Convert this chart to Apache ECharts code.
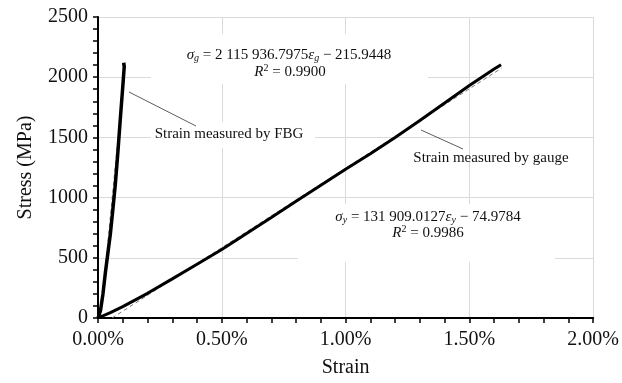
<!DOCTYPE html>
<html>
<head>
<meta charset="utf-8">
<script src="https://cdn.jsdelivr.net/npm/echarts@6/dist/echarts.min.js"></script>
<style>
html,body{margin:0;padding:0;background:#fff;}
#chart{width:622px;height:383px;}
</style>
</head>
<body>
<div id="chart"></div>
<script>
// ---- data (strain in %, stress in MPa) ----
const gaugeStrain = [0, 0.05, 0.10, 0.20, 0.30, 0.40, 0.50, 0.60, 0.70, 0.80, 0.90, 1.00, 1.10, 1.20, 1.30, 1.40, 1.50, 1.60, 1.628];
const gaugeStress = [0, 45, 95, 205, 325, 447, 569, 702, 835, 969, 1102, 1236, 1365, 1500, 1640, 1785, 1931, 2068, 2104];
const fbgStrain = [0, 0.01, 0.02, 0.03, 0.04, 0.05, 0.06, 0.07, 0.08, 0.09, 0.10, 0.106, 0.104, 0.107, 0.105];
const fbgStress = [0, 60, 200, 380, 540, 700, 900, 1110, 1370, 1650, 1920, 2090, 2120, 2110, 2095];
const gaugeTrend = [[0.057, 0], [1.63, 2075]];
const fbgTrend = [[0.0102, 0], [0.109, 2090]];
const xTicks = [0, 0.5, 1.0, 1.5, 2.0];
const yTicks = [0, 500, 1000, 1500, 2000, 2500];
const xName = 'Strain';
const yName = 'Stress (MPa)';
const fbgLabel = 'Strain measured by FBG';
const gaugeLabel = 'Strain measured by gauge';

const pairs = (xs, ys) => xs.map((x, i) => [x, ys[i]]);
const FF = 'Liberation Serif';
const chart = echarts.init(document.getElementById('chart'), null, {renderer: 'canvas'});

const rich = {
  n: {fontFamily: FF, fontSize: 15, lineHeight: 17, color: '#111'},
  it: {fontFamily: FF, fontSize: 15, fontStyle: 'italic', lineHeight: 17, color: '#111'},
  sub: {fontFamily: FF, fontSize: 10, fontStyle: 'italic', lineHeight: 10, verticalAlign: 'bottom', color: '#111'},
  sup: {fontFamily: FF, fontSize: 10, lineHeight: 10, verticalAlign: 'top', color: '#111'}
};

function textEl(text, x, y) {
  return {
    type: 'text', z: 5, x: x, y: y,
    style: {text: text, fontFamily: FF, fontSize: 15, fill: '#111', align: 'center', verticalAlign: 'middle', rich: rich}
  };
}
function boxEl(x, y, w, h) {
  return {type: 'rect', z: 1, shape: {x: x, y: y, width: w, height: h}, style: {fill: '#fff'}};
}
function lineEl(x1, y1, x2, y2) {
  return {type: 'line', z: 5, shape: {x1: x1, y1: y1, x2: x2, y2: y2}, style: {stroke: '#333', lineWidth: 0.8}};
}

const option = {
  animation: false,
  backgroundColor: '#fff',
  grid: {left: 98, right: 28, top: 17, bottom: 60, containLabel: false},
  xAxis: {
    type: 'value', min: xTicks[0], max: xTicks[xTicks.length - 1], interval: 0.5,
    name: xName, nameLocation: 'middle', nameGap: 40,
    nameTextStyle: {fontFamily: FF, fontSize: 20, color: '#111'},
    axisLine: {show: true, onZero: false, lineStyle: {color: '#000', width: 2}},
    axisTick: {show: true, length: 5, lineStyle: {color: '#000', width: 1.5}},
    minorTick: {show: true, splitNumber: 5, length: 5, lineStyle: {color: '#000', width: 1.5}},
    axisLabel: {fontFamily: FF, fontSize: 20, color: '#111', margin: 12, formatter: v => v.toFixed(2) + '%'},
    splitLine: {show: true, lineStyle: {color: '#dadada', width: 1}}
  },
  yAxis: {
    type: 'value', min: yTicks[0], max: yTicks[yTicks.length - 1], interval: 500,
    name: yName, nameLocation: 'middle', nameGap: 62, nameRotate: 90,
    nameTextStyle: {fontFamily: FF, fontSize: 20, color: '#111'},
    axisLine: {show: true, onZero: false, lineStyle: {color: '#000', width: 2}},
    axisTick: {show: true, length: 5, lineStyle: {color: '#000', width: 1.5}},
    minorTick: {show: true, splitNumber: 5, length: 5, lineStyle: {color: '#000', width: 1.5}},
    axisLabel: {fontFamily: FF, fontSize: 20, color: '#111', margin: 10, formatter: v => String(v)},
    splitLine: {show: true, lineStyle: {color: '#dadada', width: 1}}
  },
  series: [
    {type: 'line', name: 'gauge trend', data: gaugeTrend, showSymbol: false, z: 3,
     lineStyle: {color: '#777', width: 1, type: [4, 3]}},
    {type: 'line', name: 'FBG trend', data: fbgTrend, showSymbol: false, z: 3,
     lineStyle: {color: '#777', width: 1, type: [4, 3]}},
    {type: 'line', name: 'gauge', data: pairs(gaugeStrain, gaugeStress), showSymbol: false, z: 4,
     lineStyle: {color: '#000', width: 3}},
    {type: 'line', name: 'FBG', data: pairs(fbgStrain, fbgStress), showSymbol: false, z: 4,
     lineStyle: {color: '#000', width: 3.5}}
  ],
  graphic: {elements: [
    boxEl(151, 34, 277, 50),
    boxEl(151, 122, 164, 26),
    boxEl(298, 204, 257, 58),
    textEl('{it|σ}{sub|g}{n| = 2 115 936.7975}{it|ε}{sub|g}{n| − 215.9448}', 289, 55),
    textEl('{it|R}{sup|2}{n| = 0.9900}', 290, 72),
    textEl(fbgLabel, 229, 134),
    textEl('{it|σ}{sub|y}{n| = 131 909.0127}{it|ε}{sub|y}{n| − 74.9784}', 428, 217),
    textEl('{it|R}{sup|2}{n| = 0.9986}', 428, 233),
    textEl(gaugeLabel, 491, 158),
    lineEl(129, 92, 196, 126),
    lineEl(421, 130, 463, 149)
  ]}
};
chart.setOption(option);
</script>
</body>
</html>
